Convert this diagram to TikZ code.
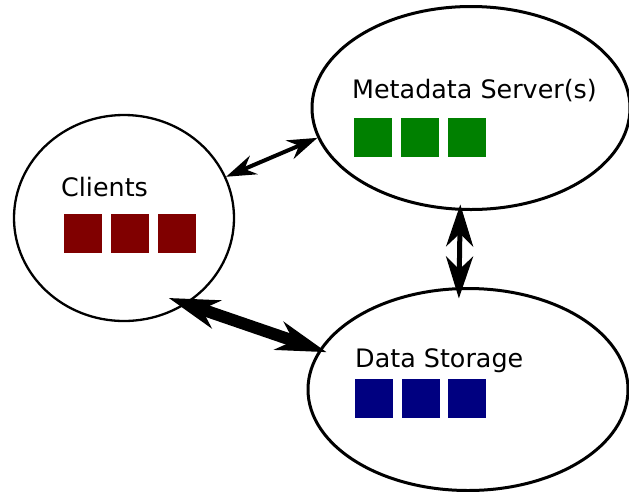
\documentclass[tikz,border=0pt]{standalone}
\usepackage{fontspec}
\setmainfont{DejaVu Sans}
\usetikzlibrary{shapes.geometric,arrows.meta}
\definecolor{clientred}{HTML}{800000}
\definecolor{metagreen}{HTML}{008000}
\definecolor{datablue}{HTML}{000080}
\tikzset{
  bubble/.style={ellipse,draw=black,inner sep=0pt,fill=white},
  label25/.style={anchor=base west,inner sep=0pt,font=\fontsize{25.4}{30}\selectfont},
  sq/.style={anchor=north west,inner sep=0pt,minimum width=38pt,minimum height=39pt,draw=none},
  thinarrow/.style={line width=4pt,{Stealth[length=30pt,width=20pt,inset=10pt]}-{Stealth[length=30pt,width=20pt,inset=10pt]}},
  midarrow/.style={line width=5pt,{Stealth[length=42pt,width=27pt,inset=13pt]}-{Stealth[length=42pt,width=27pt,inset=13pt]}},
  fatarrow/.style={line width=12pt,{Stealth[length=50pt,width=29pt,inset=15pt]}-{Stealth[length=50pt,width=29pt,inset=15pt]}}
}
\begin{document}
\begin{tikzpicture}[x=1pt,y=1pt]
\useasboundingbox (0,0) rectangle (629,-491);
% ellipses
\node[bubble,line width=2.3pt,minimum width=220pt,minimum height=206pt] (cl) at (124,-218) {};
\node[bubble,line width=3pt,minimum width=318pt,minimum height=203pt] (md) at (471,-108) {};
\node[bubble,line width=3pt,minimum width=320pt,minimum height=202pt] (ds) at (468,-389.5) {};
% labels
\node[label25] (cltext) at (61,-196) {Clients};
\node[label25] (mdtext) at (352,-98) {Metadata Server(s)};
\node[label25] (dstext) at (355,-367) {Data Storage};
% squares
\node[sq,fill=clientred] (c1) at (64,-214) {};
\node[sq,fill=clientred] (c2) at (111,-214) {};
\node[sq,fill=clientred] (c3) at (158,-214) {};
\node[sq,fill=metagreen] (m1) at (354,-118) {};
\node[sq,fill=metagreen] (m2) at (401,-118) {};
\node[sq,fill=metagreen] (m3) at (448,-118) {};
\node[sq,fill=datablue] (d1) at (355,-379) {};
\node[sq,fill=datablue] (d2) at (402,-379) {};
\node[sq,fill=datablue] (d3) at (448,-379) {};
% connectors
\draw[thinarrow] (cl.22.5) -- (md.191);
\draw[midarrow,shorten <=-6.3pt,shorten >=-11.3pt] (md.264.3) -- (ds.95);
\draw[fatarrow,shorten <=-18.9pt,shorten >=-8pt] (cl.-54) -- (ds.165.15);
\end{tikzpicture}
\end{document}
